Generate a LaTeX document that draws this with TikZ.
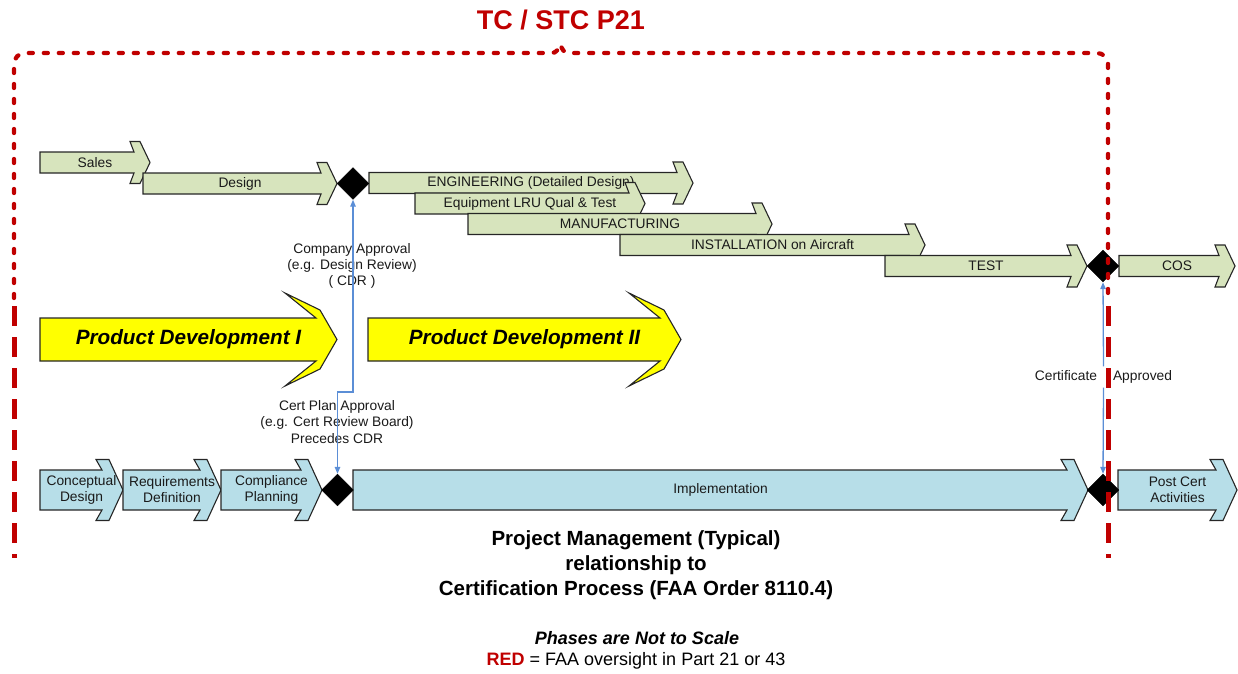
\documentclass[tikz,border=0pt]{standalone}
\usepackage{fontspec}
\setmainfont{Liberation Sans}
\usetikzlibrary{shapes.geometric,arrows.meta}
\definecolor{gfill}{HTML}{D7E4BD}
\definecolor{bfill}{HTML}{B7DEE8}
\definecolor{yfill}{HTML}{FFFF00}
\definecolor{redc}{HTML}{C00000}
\definecolor{connc}{HTML}{5B8ED6}
\definecolor{outl}{HTML}{262626}
\definecolor{txt}{HTML}{1A1A1A}
\tikzset{
  garr/.style={fill=gfill, draw=outl, line width=1.1pt, line join=miter},
  barr/.style={fill=bfill, draw=outl, line width=1.1pt, line join=miter},
  yarr/.style={fill=yfill, draw=outl, line width=1.1pt, line join=miter},
  glab/.style={font=\fontsize{13.8}{16}\selectfont, text=txt, inner sep=0pt},
  blab/.style={font=\fontsize{13.8}{16}\selectfont, text=txt, align=center, inner sep=0pt},
  ylab/.style={font=\bfseries\itshape\fontsize{20.7}{24}\selectfont, text=black, inner sep=0pt},
  note/.style={font=\fontsize{13.8}{16.3}\selectfont, text=txt, align=center, inner sep=0pt},
  dia/.style={diamond, fill=black, draw=black, minimum width=32pt, minimum height=32pt, inner sep=0pt},
  conn/.style={draw=connc, line width=1.3pt},
  tipc/.style={-{Triangle[length=7pt,width=5.5pt]}},
  redtop/.style={draw=redc, line width=4.3pt, line cap=round, dash pattern=on 4pt off 11pt},
  redlow/.style={draw=redc, line width=5pt, dash pattern=on 20pt off 11pt},
}
\newcommand{\grnarrow}[5]{%
  \path[garr] (#2,#4-10.5) -- (#3-16,#4-10.5) -- (#3-20,#4-21) -- (#3-10,#4-21) -- (#3,#4)
     -- (#3-10,#4+21) -- (#3-20,#4+21) -- (#3-16,#4+10.5) -- (#2,#4+10.5) -- cycle;
  \node[glab] (#1) at ({(#2+#3)/2},#4) {#5};}
\newcommand{\bluarrow}[5]{%
  \path[barr] (#2,#4-20) -- (#3-21,#4-20) -- (#3-27,#4-30.5) -- (#3-14,#4-30.5) -- (#3,#4)
     -- (#3-14,#4+30.5) -- (#3-27,#4+30.5) -- (#3-21,#4+20) -- (#2,#4+20) -- cycle;
  \node[blab] (#1) at ({(#2+#3)/2},#4) {#5};}
\newcommand{\yelarrow}[5]{%
  \path[yarr] (#2,#4-21.5) -- (#3-21,#4-21.5) -- (#3-52,#4-46.5) -- (#3-17,#4-29.5) -- (#3,#4)
     -- (#3-17,#4+29.5) -- (#3-52,#4+46.5) -- (#3-21,#4+21.5) -- (#2,#4+21.5) -- cycle;
  \node[ylab] (#1) at ({(#2+#3)/2},#4) {#5};}
\begin{document}
\begin{tikzpicture}[x=1pt,y=-1pt]
\useasboundingbox (0,0) rectangle (1238,673);

% title
\node[font=\bfseries\fontsize{27}{30}\selectfont, text=redc, inner sep=0pt] (title) at (561,20) {TC / STC P21};

% green phase arrows
\grnarrow{sales}{40}{150}{162.5}{Sales}
\grnarrow{design}{143}{337}{183.5}{Design}
\grnarrow{eng}{369}{693}{183}{ENGINEERING (Detailed Design)}
\grnarrow{equip}{415}{645}{203.5}{Equipment LRU Qual \& Test}
\grnarrow{manuf}{468}{772}{224}{MANUFACTURING}
\grnarrow{inst}{620}{925}{245}{INSTALLATION on Aircraft}
\grnarrow{test}{885}{1087}{266}{TEST}
\grnarrow{cos}{1119}{1235}{266}{COS}

% yellow arrows
\yelarrow{pd1}{40}{337}{339.5}{Product Development I}
\yelarrow{pd2}{368}{681}{339.5}{Product Development II}

% blue phase arrows
\bluarrow{concept}{40}{123}{490}{Conceptual\\Design}
\bluarrow{req}{123}{221}{490}{Requirements\\Definition}
\bluarrow{comp}{221}{322}{490}{Compliance\\Planning}
\bluarrow{impl}{353}{1088}{490}{Implementation}
\bluarrow{post}{1118}{1237}{490}{Post Cert\\Activities}

% milestones
\node[dia] (d1) at (353,183.5) {};
\node[dia] (d2) at (337.5,490) {};
\node[dia] (d3) at (1103,266) {};
\node[dia] (d4) at (1103,490) {};

% notes
\node[note] (capp) at (352,266) {Company Approval\\(e.g. Design Review)\\( CDR )};
\node[note] (cplan) at (337,422) {Cert Plan Approval\\(e.g. Cert Review Board)\\Precedes CDR};
\node[glab, minimum height=21pt] (cert) at (1103.5,377) {Certificate\hspace{16pt}Approved};

% connectors
\coordinate (jog) at (0,392);
\draw[conn, {Triangle[length=7pt,width=5.5pt]}-{Triangle[length=7pt,width=5.5pt]}] (d1.south) -- (d1.south |- jog) -| (d2.north);
\draw[conn, tipc] (cert.north) -- (d3.south);
\draw[conn, tipc] (cert.south) -- (d4.north);

% red certification boundary
\draw[redtop] (14,298) [rounded corners=11pt] -- (14,53) -- (540,53) [sharp corners] -- (552,53)
   .. controls (556,53) and (559,49) .. (560,44) .. controls (562,49) and (564,53) .. (568,53)
   -- (580,53) [rounded corners=11pt] -- (1108,53) -- (1108,298);
\draw[redlow] (14,306) -- (14,558);
\draw[redlow] (1108,306) -- (1108,558);

% captions
\node[font=\bfseries\fontsize{20.5}{25}\selectfont, align=center, text=black, inner sep=0pt] (pm) at (636,565)
  {Project Management (Typical)\\relationship to\\Certification Process (FAA Order 8110.4)};
\node[font=\bfseries\itshape\fontsize{18}{21}\selectfont, text=black, inner sep=0pt] (scale) at (637,638) {Phases are Not to Scale};
\node[font=\fontsize{18}{21}\selectfont, text=black, inner sep=0pt] (legend) at (636,661) {\textcolor{redc}{\bfseries RED} = FAA oversight in Part 21 or 43};
\end{tikzpicture}
\end{document}
